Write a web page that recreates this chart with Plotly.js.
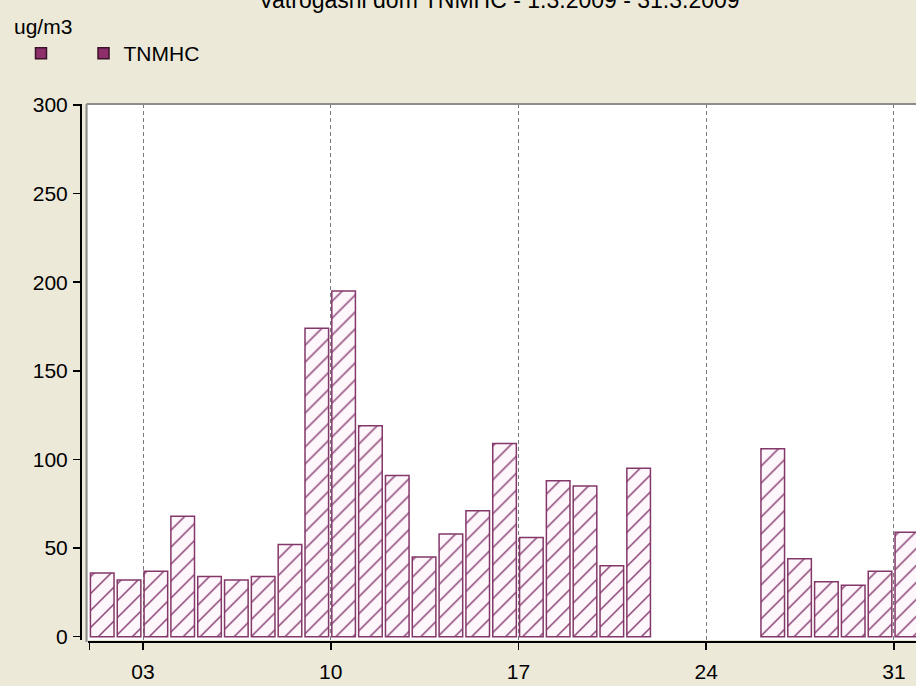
<!DOCTYPE html>
<html>
<head>
<meta charset="utf-8">
<script src="https://cdn.plot.ly/plotly-3.0.1.min.js"></script>
<style>
html, body { margin: 0; padding: 0; overflow: hidden; background: #ece9d8; }
#chart { width: 940px; height: 686px; }
</style>
</head>
<body>
<div id="chart"></div>
<script>
// Days of March 2009 and daily TNMHC values (ug/m3); null = no data
const days = [1, 2, 3, 4, 5, 6, 7, 8, 9, 10, 11, 12, 13, 14, 15, 16, 17, 18, 19, 20, 21, 22, 23, 24, 25, 26, 27, 28, 29, 30, 31];
const tnmhc = [36, 32, 37, 68, 34, 32, 34, 52, 174, 195, 119, 91, 45, 58, 71, 109, 56, 88, 85, 40, 95, null, null, null, null, 106, 44, 31, 29, 37, 59];
const xTickVals = [3, 10, 17, 24, 31];
const xTickText = ['03', '10', '17', '24', '31'];
const xMinorVals = [1];
const yTickVals = [0, 50, 100, 150, 200, 250, 300];
const seriesName = 'TNMHC';
const blankName = '\u00a0\u00a0\u00a0';
const titleText = 'Vatrogasni dom TNMHC - 1.3.2009 - 31.3.2009';
const unitText = 'ug/m3';

const FONT = 'Liberation Sans, Arial, sans-serif';
const BAR_LINE = '#84386a';
const HATCH = '#8a3e73';
const LEG = '#8e2f6c';

const bars = {
  type: 'bar',
  x: days,
  y: tnmhc,
  offset: 0.04,
  width: 0.88,
  showlegend: false,
  marker: {
    color: '#fdf6fb',
    line: { color: BAR_LINE, width: 1.5 },
    pattern: { shape: '/', fgcolor: HATCH, bgcolor: '#fdf6fb', size: 12, solidity: 0.12 }
  },
  hoverinfo: 'skip'
};

const legBlank = {
  type: 'scatter', mode: 'markers', x: [null], y: [null], name: blankName,
  marker: { symbol: 'square', size: 11, color: LEG, line: { color: '#3a1228', width: 1.5 } }
};
const legSeries = {
  type: 'scatter', mode: 'markers', x: [null], y: [null], name: seriesName,
  marker: { symbol: 'square', size: 11, color: LEG, line: { color: '#3a1228', width: 1.5 } }
};

const W = 940, H = 686;
const layout = {
  width: W, height: H,
  paper_bgcolor: '#ece9d8',
  plot_bgcolor: '#ffffff',
  margin: { l: 81, r: 10, t: 104, b: 44, pad: 0 },
  font: { family: FONT, size: 21, color: '#000' },
  title: {
    text: titleText,
    font: { family: FONT, size: 23, color: '#000' },
    xref: 'container', yref: 'container',
    x: 499 / W, xanchor: 'center',
    y: 1, yanchor: 'middle'
  },
  showlegend: true,
  legend: {
    orientation: 'h',
    xref: 'container', yref: 'container',
    x: 21 / W, xanchor: 'left',
    y: 1 - 33 / H, yanchor: 'top',
    bgcolor: 'rgba(0,0,0,0)',
    font: { family: FONT, size: 21, color: '#000' },
    itemclick: false
  },
  bargap: 0,
  xaxis: {
    domain: [7 / 849, 1],
    range: [0.9493, 32.343],
    anchor: 'free', position: 0,
    showline: true, linecolor: '#000', linewidth: 2,
    tickmode: 'array', tickvals: xTickVals, ticktext: xTickText,
    ticks: 'outside', ticklen: 7, tickwidth: 1.5, tickcolor: '#000',
    minor: { tickmode: 'array', tickvals: xMinorVals, ticks: 'outside', ticklen: 7, tickwidth: 1.5, tickcolor: '#000', showgrid: false },
    showgrid: true, gridcolor: '#7a7a7a', gridwidth: 1, griddash: '4px,3px',
    zeroline: false,
    ticklabelstandoff: 4,
    tickfont: { family: FONT, size: 21, color: '#000' }
  },
  yaxis: {
    domain: [2 / 538, 1],
    range: [-1.86, 300.56],
    anchor: 'free', position: 0,
    showline: true, linecolor: '#000', linewidth: 2,
    tickmode: 'array', tickvals: yTickVals,
    ticks: 'outside', ticklen: 7, tickwidth: 1.5, tickcolor: '#000',
    showgrid: false, zeroline: false,
    ticklabelstandoff: 1,
    tickfont: { family: FONT, size: 21, color: '#000' }
  },
  shapes: [
    { type: 'line', xref: 'paper', yref: 'paper', x0: 5.5 / 849, x1: 5.5 / 849, y0: 0, y1: 1, line: { color: '#8c8c8c', width: 2 }, layer: 'above' },
    { type: 'line', xref: 'paper', yref: 'paper', x0: 5.5 / 849, x1: 1, y0: 1, y1: 1, line: { color: '#8c8c8c', width: 2 }, layer: 'above' }
  ],
  annotations: [
    { text: unitText, xref: 'paper', yref: 'paper', x: -69 / 849, xanchor: 'left', y: 1 + 78 / 538, yanchor: 'middle', showarrow: false, font: { family: FONT, size: 21, color: '#000' } }
  ]
};

Plotly.newPlot('chart', [bars, legBlank, legSeries], layout, { displayModeBar: false, staticPlot: true });
</script>
</body>
</html>
